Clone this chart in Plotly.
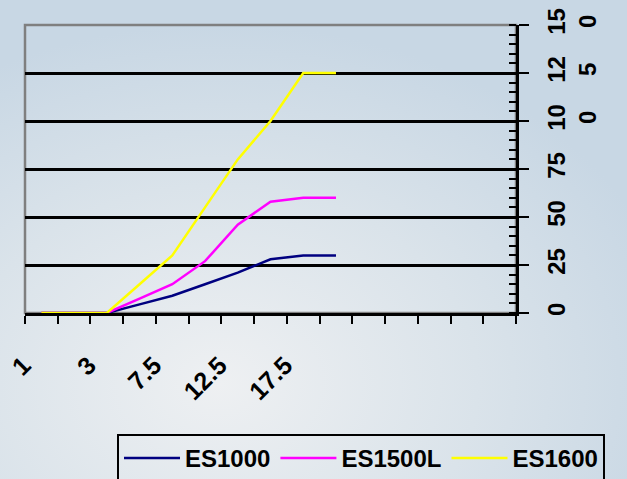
import plotly.graph_objects as go
import urllib.parse

# ---- data ----
categories = ["1", "2", "3", "5", "7.5", "10", "12.5", "15", "17.5", "20", "", "", "", "", ""]
shown_labels = ["1", "3", "7.5", "12.5", "17.5"]          # every other category is labelled
es1000 = [0, 0, 0, 4.5, 9, 15, 21, 28, 30, 30]
es1500l = [0, 0, 0, 7.5, 15, 27, 46, 58, 60, 60]
es1600 = [0, 0, 0, 15, 30, 55, 80, 100, 125, 125]
y_tick_vals = [0, 25, 50, 75, 100, 125, 150]
y_tick_text = ["0", "25", "50", "75", "10<br>0", "12<br>5", "15<br>0"]

series = [("ES1000", es1000, "#000080"),
          ("ES1500L", es1500l, "#ff00ff"),
          ("ES1600", es1600, "#ffff00")]

FONT = "Liberation Sans"
FS = 24

fig = go.Figure()
for name, vals, col in series:
    fig.add_trace(go.Scatter(
        x=list(range(len(vals))), y=vals, name=name, mode="lines",
        line=dict(color=col, width=2.5)))

label_pos = [categories.index(l) for l in shown_labels]

svg = ("<svg xmlns='http://www.w3.org/2000/svg' width='627' height='479' preserveAspectRatio='none'>"
       "<defs><radialGradient id='g' cx='0.35' cy='0.8' r='0.75'>"
       "<stop offset='0' stop-color='#eef0f2'/>"
       "<stop offset='0.55' stop-color='#dae3ea'/>"
       "<stop offset='1' stop-color='#c8d7e4'/>"
       "</radialGradient></defs>"
       "<rect width='627' height='479' fill='url(#g)'/></svg>")
bg_uri = "data:image/svg+xml;charset=utf-8," + urllib.parse.quote(svg)

L, R, T, B = 25, 111, 25, 166
W, H = 627, 479
pw, ph = W - L - R, H - T - B

fig.update_layout(
    width=W, height=H,
    margin=dict(l=L, r=R, t=T, b=B, pad=0, autoexpand=False),
    paper_bgcolor="#d9e2ea",
    plot_bgcolor="#c0c0c0",
    font=dict(family=FONT, size=FS, color="black"),
    showlegend=True,
    legend=dict(
        orientation="h", x=(117 - L) / pw, y=(T + ph - 434) / ph,
        xanchor="left", yanchor="top",
        bgcolor="rgba(0,0,0,0)", bordercolor="black", borderwidth=2,
        font=dict(family=FONT, size=FS, color="black", weight="bold"),
        itemwidth=56,
    ),
    images=[dict(source=bg_uri, xref="paper", yref="paper",
                 x=-L / pw, y=1 + T / ph, sizex=W / pw, sizey=H / ph,
                 xanchor="left", yanchor="top", sizing="stretch", layer="below")],
    shapes=[dict(type="rect", xref="paper", yref="paper", x0=0, x1=1, y0=0, y1=1,
                 line=dict(color="#7f7f7f", width=2.5), fillcolor="rgba(0,0,0,0)",
                 layer="below")],
)

fig.update_xaxes(
    range=[-0.5, len(categories) - 0.5], automargin=False,
    tickmode="array", tickvals=label_pos, ticktext=shown_labels,
    tickangle=-45, ticks="", showgrid=False, zeroline=False,
    showline=True, linecolor="black", linewidth=2.5,
    tickfont=dict(family=FONT, size=25, color="black", weight="bold"),
    ticklabelstandoff=25, ticklabelshift=-18,
    minor=dict(tick0=-0.5, dtick=1, ticks="outside", ticklen=8,
               tickwidth=2, tickcolor="black", showgrid=False),
)

fig.update_yaxes(
    range=[0, 150], side="right", automargin=False,
    tickmode="array", tickvals=y_tick_vals, ticktext=y_tick_text,
    tickangle=-90, ticks="outside", ticklen=10, tickwidth=2, tickcolor="black",
    showgrid=True, gridcolor="black", gridwidth=2.5, zeroline=False,
    showline=True, linecolor="black", linewidth=2.5,
    tickfont=dict(family=FONT, size=FS, color="black", weight="bold"),
    ticklabelstandoff=7,
    minor=dict(tick0=0, dtick=5, ticks="inside", ticklen=7,
               tickwidth=1.5, tickcolor="black", showgrid=False),
)

fig.write_html("out.html",
               config={"displayModeBar": False},
               post_script="document.body.style.margin='0';document.body.style.overflow='hidden';")
